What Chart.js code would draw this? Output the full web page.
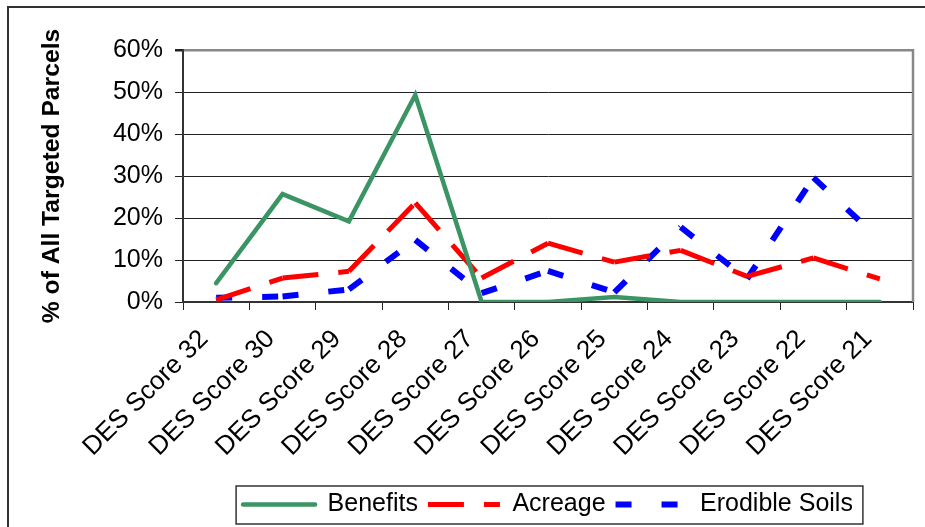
<!DOCTYPE html>
<html>
<head>
<meta charset="utf-8">
<script src="https://cdn.jsdelivr.net/npm/chart.js@4"></script>
<style>
  html, body { margin: 0; padding: 0; background: #fff; }
  #wrap { width: 925px; height: 527px; }
</style>
</head>
<body>
<div id="wrap"><canvas id="chart" width="925" height="527"></canvas></div>
<script>
// Share of all targeted parcels by DES score
const categories = ['DES Score 32', 'DES Score 30', 'DES Score 29', 'DES Score 28', 'DES Score 27',
  'DES Score 26', 'DES Score 25', 'DES Score 24', 'DES Score 23', 'DES Score 22', 'DES Score 21'];
const benefits = [4.5, 25.7, 19.2, 49.3, 0, 0, 1.2, 0, 0, 0, 0];
const acreage  = [0.5, 5.7, 7.3, 23.6, 5.7, 14.0, 9.5, 12.3, 6.1, 10.5, 5.5];
const erodible = [1.0, 1.3, 3.0, 14.8, 2.1, 7.4, 2.3, 17.8, 5.5, 29.6, 14.8];
const yTicks = [0, 10, 20, 30, 40, 50, 60];

const FONT = 'Liberation Sans, Arial, Helvetica, sans-serif';

// restart the dash pattern at every vertex: give neighbouring segments
// a slightly different offset so each one is stroked as its own path
const restartDash = ctx => (ctx.p0DataIndex % 2 ? 0.0001 : 0);

const chromePlugin = {
  id: 'chrome',
  beforeDraw(chart) {
    const ctx = chart.ctx;
    ctx.save();
    ctx.fillStyle = '#fff';
    ctx.fillRect(0, 0, chart.width, chart.height);
    ctx.restore();
  },
  afterDraw(chart) {
    const ctx = chart.ctx;
    const a = chart.chartArea;
    ctx.save();
    // outer frame
    ctx.strokeStyle = '#333';
    ctx.lineWidth = 2;
    ctx.strokeRect(8, 7, 1000, 1000);
    // right edge of the plot
    ctx.strokeStyle = '#888';
    ctx.lineWidth = 2.5;
    ctx.beginPath();
    ctx.moveTo(a.right, a.top - 1);
    ctx.lineTo(a.right, a.bottom);
    ctx.stroke();
    // legend border
    const boxes = chart.legend.legendHitBoxes;
    if (boxes && boxes.length) {
      const first = boxes[0];
      const last = boxes[boxes.length - 1];
      const x0 = first.left - 7;
      const x1 = last.left + last.width + 10;
      ctx.strokeStyle = '#333';
      ctx.lineWidth = 1.5;
      ctx.strokeRect(x0, first.top - 6, x1 - x0, first.height + 13);
    }
    ctx.restore();
  }
};

new Chart(document.getElementById('chart'), {
  type: 'line',
  data: {
    labels: categories,
    datasets: [
      {
        label: 'Benefits',
        data: benefits,
        borderColor: '#3a9464',
        backgroundColor: '#3a9464',
        borderWidth: 4.5,
        borderCapStyle: 'round',
        borderJoinStyle: 'miter',
        pointRadius: 0,
        tension: 0
      },
      {
        label: 'Acreage',
        data: acreage,
        borderColor: '#ff0000',
        backgroundColor: '#ff0000',
        borderWidth: 5,
        borderDash: [36, 20],
        borderCapStyle: 'butt',
        pointRadius: 0,
        tension: 0,
        segment: { borderDashOffset: restartDash }
      },
      {
        label: 'Erodible Soils',
        data: erodible,
        borderColor: '#0000ff',
        backgroundColor: '#0000ff',
        borderWidth: 6,
        borderDash: [16, 30],
        borderCapStyle: 'butt',
        pointRadius: 0,
        tension: 0,
        segment: { borderDashOffset: restartDash }
      }
    ]
  },
  options: {
    responsive: false,
    animation: false,
    devicePixelRatio: 1,
    layout: { padding: { left: 10, top: 50, right: 12, bottom: 0 } },
    plugins: {
      tooltip: { enabled: false },
      legend: {
        position: 'bottom',
        fullSize: false,
        align: 'center',
        labels: {
          usePointStyle: true,
          pointStyleWidth: 72,
          boxHeight: 6,
          padding: 10,
          color: '#000',
          font: { family: FONT, size: 25 },
          generateLabels: chart => chart.data.datasets.map((ds, i) => ({
            text: ds.label,
            datasetIndex: i,
            fillStyle: ds.borderColor,
            strokeStyle: ds.borderColor,
            lineWidth: ds.borderWidth,
            lineDash: ds.borderDash || [],
            lineCap: ds.borderCapStyle,
            pointStyle: 'line',
            fontColor: '#000',
            hidden: false
          }))
        }
      }
    },
    scales: {
      x: {
        type: 'category',
        offset: true,
        afterFit: scale => { scale.height = 180; },
        grid: {
          display: true,
          drawOnChartArea: false,
          drawTicks: true,
          tickLength: 8,
          color: '#222',
          offset: true
        },
        border: { display: true, color: '#333', width: 2 },
        ticks: {
          autoSkip: false,
          minRotation: 45,
          maxRotation: 45,
          padding: 14,
          labelOffset: -12,
          color: '#000',
          font: { family: FONT, size: 26 }
        }
      },
      y: {
        min: 0,
        max: 60,
        afterFit: scale => { scale.width = 173; },
        afterBuildTicks: scale => { scale.ticks = yTicks.map(v => ({ value: v })); },
        title: {
          display: true,
          text: '% of All Targeted Parcels',
          color: '#000',
          font: { family: FONT, size: 24.7, weight: 'bold' },
          padding: { top: 27, bottom: 0 }
        },
        grid: {
          color: ctx => (ctx.tick && ctx.tick.value === 60 ? '#888' : '#222'),
          lineWidth: ctx => (ctx.tick && ctx.tick.value === 60 ? 2.5 : 1),
          tickColor: '#222',
          tickLength: 8
        },
        border: { display: true, color: '#333', width: 2 },
        ticks: {
          padding: 12,
          color: '#000',
          font: { family: FONT, size: 25 },
          callback: v => v + '%'
        }
      }
    }
  },
  plugins: [chromePlugin]
});
</script>
</body>
</html>
